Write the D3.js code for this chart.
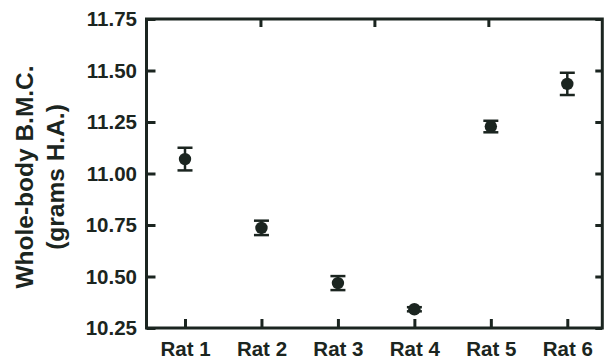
<!DOCTYPE html>
<html><head><meta charset="utf-8">
<script src="https://cdn.jsdelivr.net/npm/d3@7"></script>
<style>html,body{margin:0;padding:0;background:#fff;}svg{display:block;}</style>
</head><body>
<script>
const categories = ["Rat 1","Rat 2","Rat 3","Rat 4","Rat 5","Rat 6"];
const means = [11.07, 10.736, 10.468, 10.341, 11.228, 11.435];
const errors = [0.055, 0.035, 0.034, 0.01, 0.028, 0.054];
const yTicks = [10.25, 10.50, 10.75, 11.00, 11.25, 11.50, 11.75];
const yTitle = ["Whole-body B.M.C.", "(grams H.A.)"];

const W = 604, H = 361;
const L = 146.5, R = 602.3, T = 19, B = 328;
const ink = "#1b2520";
const svg = d3.select("body").append("svg").attr("width", W).attr("height", H);

const x = d3.scalePoint().domain(categories).range([185, 567.3]);
const y = d3.scaleLinear().domain([10.25, 11.75]).range([B, T]);
const xTop = d3.scaleLinear().domain([0, 4]).range([L, R]);

// frame
svg.append("rect").attr("x", L).attr("y", T).attr("width", R - L).attr("height", B - T)
  .attr("fill", "none").attr("stroke", ink).attr("stroke-width", 3);

// left axis ticks (inward) + labels
const gl = svg.append("g").attr("transform", `translate(${L},0)`)
  .call(d3.axisLeft(y).tickValues(yTicks).tickFormat(d3.format(".2f")).tickSizeInner(-9).tickSizeOuter(0).tickPadding(9.5));
gl.select(".domain").remove();
gl.selectAll("line").attr("stroke", ink).attr("stroke-width", 3);
gl.selectAll("text").attr("font-family", "Liberation Sans, Arial, sans-serif").attr("font-weight", "bold")
  .attr("font-size", 20.5).attr("fill", ink);

// right axis ticks (inward)
const gr = svg.append("g").attr("transform", `translate(${R},0)`)
  .call(d3.axisRight(y).tickValues(yTicks).tickSizeInner(-7).tickSizeOuter(0).tickFormat(""));
gr.select(".domain").remove();
gr.selectAll("line").attr("stroke", ink).attr("stroke-width", 3);

// top axis ticks (inward)
const gt = svg.append("g").attr("transform", `translate(0,${T})`)
  .call(d3.axisTop(xTop).tickValues([1, 2, 3]).tickSizeInner(-8).tickSizeOuter(0).tickFormat(""));
gt.select(".domain").remove();
gt.selectAll("line").attr("stroke", ink).attr("stroke-width", 3);

// bottom axis ticks (inward) + labels
const gb = svg.append("g").attr("transform", `translate(0,${B})`)
  .call(d3.axisBottom(x).tickSizeInner(-9).tickSizeOuter(0).tickPadding(13.5));
gb.select(".domain").remove();
gb.selectAll("line").attr("stroke", ink).attr("stroke-width", 3);
gb.selectAll("text").attr("font-family", "Liberation Sans, Arial, sans-serif").attr("font-weight", "bold")
  .attr("font-size", 20.5).attr("fill", ink);

// error bars
const capW = 7.5;
const eg = svg.append("g").selectAll("g").data(categories).join("g");
eg.append("line").attr("x1", d => x(d)).attr("x2", d => x(d))
  .attr("y1", (d, i) => y(means[i] + errors[i])).attr("y2", (d, i) => y(means[i] - errors[i]))
  .attr("stroke", ink).attr("stroke-width", 2.5);
eg.append("line").attr("x1", d => x(d) - capW).attr("x2", d => x(d) + capW)
  .attr("y1", (d, i) => y(means[i] + errors[i])).attr("y2", (d, i) => y(means[i] + errors[i]))
  .attr("stroke", ink).attr("stroke-width", 2.5);
eg.append("line").attr("x1", d => x(d) - capW).attr("x2", d => x(d) + capW)
  .attr("y1", (d, i) => y(means[i] - errors[i])).attr("y2", (d, i) => y(means[i] - errors[i]))
  .attr("stroke", ink).attr("stroke-width", 2.5);
eg.append("circle").attr("cx", d => x(d)).attr("cy", (d, i) => y(means[i])).attr("r", 6.2).attr("fill", ink);

// y title
const tt = svg.append("text").attr("transform", `translate(0,${177}) rotate(-90)`)
  .attr("text-anchor", "middle").attr("font-family", "Liberation Sans, Arial, sans-serif")
  .attr("font-weight", "bold").attr("font-size", 24.5).attr("fill", ink);
tt.selectAll("tspan").data(yTitle).join("tspan").attr("x", 0)
  .attr("y", (d, i) => i === 0 ? 33 : 64).text(d => d);
</script>
</body></html>
